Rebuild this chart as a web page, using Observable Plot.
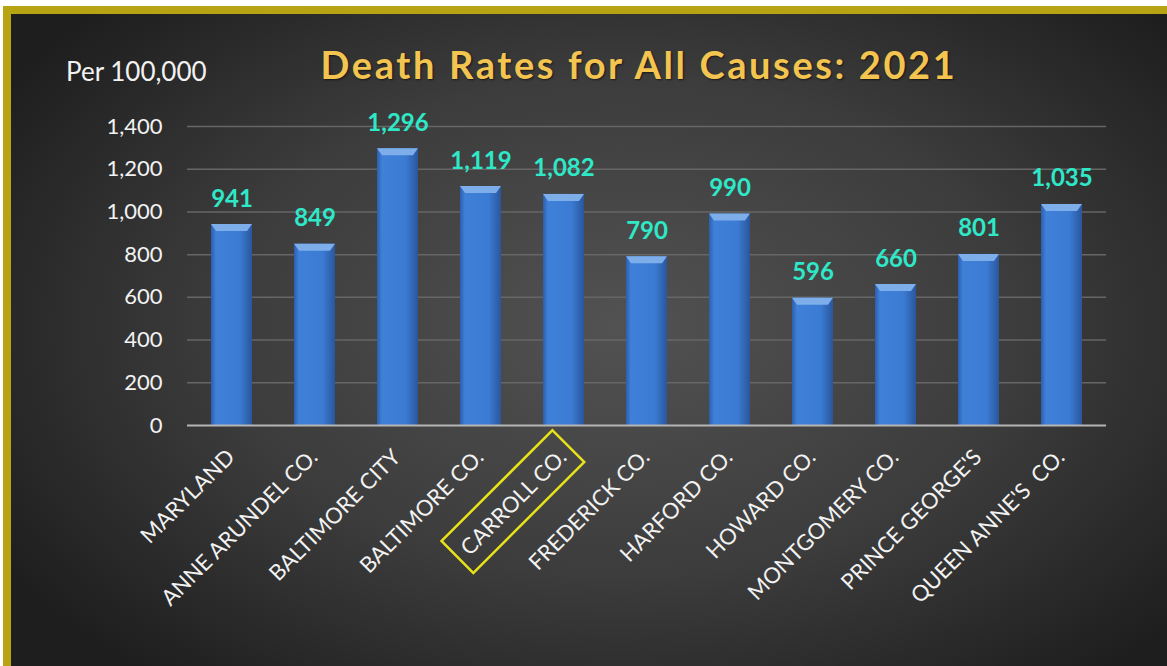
<!DOCTYPE html>
<html><head><meta charset="utf-8">
<script src="https://cdn.jsdelivr.net/npm/d3@7"></script>
<script src="https://cdn.jsdelivr.net/npm/@observablehq/plot@0.6"></script>
<style>
html,body{margin:0;padding:0;background:#fff;width:1167px;height:666px;overflow:hidden;font-family:Lato,"Open Sans",sans-serif}
#frame{position:absolute;left:3px;top:6px;width:1190px;height:668px;box-sizing:border-box;border:8px solid #b8a312;
 background:radial-gradient(ellipse 62% 70% at 52% 48%, #525252 0%, #3c3c3c 55%, #1e1e1e 100%)}
#title{position:absolute;left:0;top:41px;width:1278px;text-align:center;font:bold 38px Lato,sans-serif;letter-spacing:2.6px;color:#f3c450;text-shadow:1px 1px 2px rgba(0,0,0,.6)}
#unit{position:absolute;left:66px;top:55px;font:26px Lato,sans-serif;color:#f2f2f2}
#chart{position:absolute;left:0;top:100px}
#chart svg [aria-label^="y-axis"] text{font-size:22px}
#chart svg [aria-label^="x-axis"] text{font-size:22px}
</style></head>
<body>
<div id="frame"></div>
<div id="title">Death Rates for All Causes: 2021</div>
<div id="unit">Per 100,000</div>
<div id="chart"></div>
<script>
const categories = ["MARYLAND","ANNE ARUNDEL CO.","BALTIMORE CITY","BALTIMORE CO.","CARROLL CO.","FREDERICK CO.","HARFORD CO.","HOWARD CO.","MONTGOMERY CO.","PRINCE GEORGE'S","QUEEN ANNE'S  CO."];
const rates = [941,849,1296,1119,1082,790,990,596,660,801,1035];
const yTicks = [0,200,400,600,800,1000,1200,1400];
const highlighted = "CARROLL CO.";

const data = categories.map((c,i)=>({county:c, rate:rates[i]}));
const fmt = d3.format(",");

const chart = Plot.plot({
  width:1167, height:566,
  marginLeft:187, marginRight:61, marginTop:26, marginBottom:241,
  style:{background:"transparent", fontFamily:"Lato, sans-serif", color:"#f2f2f2", overflow:"visible"},
  x:{domain:categories, paddingInner:0.511, paddingOuter:0.239},
  y:{domain:[0,1400]},
  marks:[
    Plot.ruleY(yTicks.filter(d=>d>0),{stroke:"#666", strokeWidth:1.5}),
    Plot.axisY({ticks:yTicks, tickFormat:fmt, tickSize:0, tickPadding:25, label:null, fill:"#f2f2f2"}),
    Plot.barY(data,{x:"county", y:"rate", fill:"url(#barGrad)"}),
    Plot.ruleY([0],{stroke:"#b5b5b5", strokeWidth:2}),
    Plot.text(data,{x:"county", y:"rate", text:d=>fmt(d.rate), dy:-18, lineAnchor:"bottom", fill:"#2ee8c8", fontWeight:"bold", fontSize:24}),
    Plot.axisX({tickRotate:-45, tickSize:0, tickPadding:28, dx:-1, label:null, fill:"#f2f2f2"})
  ]
});
document.getElementById("chart").appendChild(chart);

// gradient + bevel derived from rendered bars
const ns = "http://www.w3.org/2000/svg";
const defs = document.createElementNS(ns,"defs");
defs.innerHTML = `<linearGradient id="barGrad" x1="0" x2="1" y1="0" y2="0">
  <stop offset="0" stop-color="#2b5eae"/><stop offset="0.12" stop-color="#3f80d8"/>
  <stop offset="0.7" stop-color="#3b7bd3"/><stop offset="1" stop-color="#2a569c"/></linearGradient>`;
chart.insertBefore(defs, chart.firstChild);
chart.querySelectorAll('[aria-label="bar"] rect').forEach(r=>{
  const x=+r.getAttribute("x"), y=+r.getAttribute("y"), w=+r.getAttribute("width");
  const p=document.createElementNS(ns,"polygon");
  p.setAttribute("points",`${x},${y} ${x+w},${y} ${x+w-5},${y+7} ${x+5},${y+7}`);
  p.setAttribute("fill","#7eaeea");
  r.parentNode.appendChild(p);
});
// highlight box around the Carroll label
chart.querySelectorAll('[aria-label^="x-axis"] text').forEach(t=>{
  if (t.textContent.trim()===highlighted) {
    const b=t.getBBox();
    const rect=document.createElementNS(ns,"rect");
    rect.setAttribute("x",b.x-9); rect.setAttribute("y",b.y-9);
    rect.setAttribute("width",b.width+18); rect.setAttribute("height",b.height+18);
    rect.setAttribute("fill","none"); rect.setAttribute("stroke","#e8e21a"); rect.setAttribute("stroke-width",2.5);
    const tr=t.getAttribute("transform"); if(tr) rect.setAttribute("transform",tr);
    t.parentNode.insertBefore(rect,t);
  }
});
</script>
</body></html>
